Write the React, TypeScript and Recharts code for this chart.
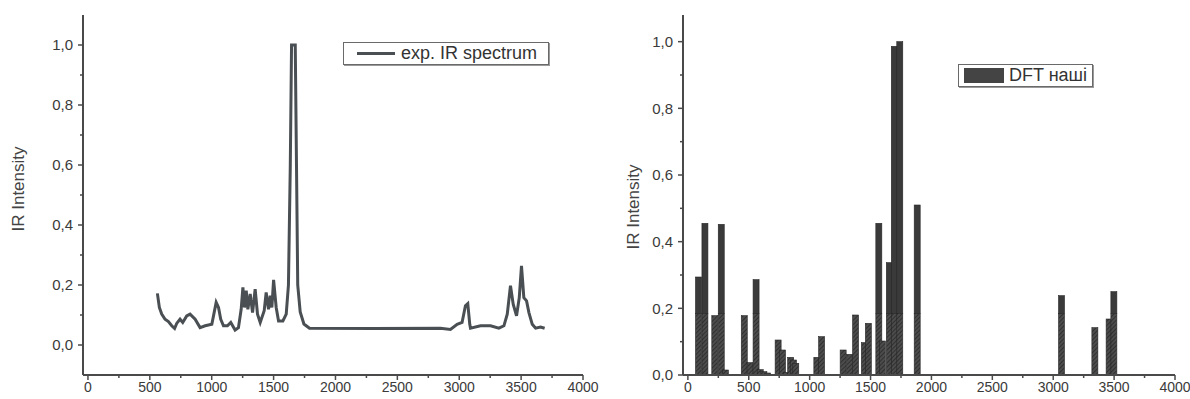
import React from "react";
import { LineChart, Line, BarChart, Bar, XAxis, YAxis, Legend } from "recharts";

// experimental IR spectrum (wavenumber, cm-1 / relative intensity)
const expWavenumbers = [
  561, 577, 596, 623, 650, 677, 700, 717, 744, 766, 798, 825, 866, 906, 947,
  1001, 1036, 1055, 1073, 1095, 1127, 1154, 1189, 1216, 1238, 1252, 1265, 1279,
  1292, 1311, 1330, 1351, 1370, 1392, 1424, 1440, 1459, 1473, 1486, 1500, 1521,
  1540, 1575, 1602, 1620, 1635, 1645, 1660, 1675, 1685, 1695, 1715, 1745, 1790,
  2300, 2848, 2929, 2983, 3023, 3050, 3069, 3085, 3091, 3172, 3253, 3320, 3361,
  3388, 3414, 3436, 3463, 3485, 3503, 3522, 3544, 3563, 3590, 3617, 3657, 3690,
];
const expIntensity = [
  0.172, 0.125, 0.103, 0.086, 0.078, 0.064, 0.055, 0.072, 0.086, 0.075, 0.097,
  0.103, 0.086, 0.058, 0.064, 0.069, 0.142, 0.125, 0.086, 0.064, 0.064, 0.075,
  0.05, 0.058, 0.119, 0.192, 0.125, 0.181, 0.119, 0.17, 0.108, 0.186, 0.103,
  0.075, 0.114, 0.175, 0.119, 0.164, 0.125, 0.217, 0.125, 0.08, 0.08, 0.103,
  0.2, 0.6, 1.0, 1.0, 1.0, 0.6, 0.2, 0.11, 0.07, 0.056, 0.055, 0.056, 0.052,
  0.069, 0.075, 0.131, 0.138, 0.069, 0.056, 0.064, 0.064, 0.056, 0.064, 0.103,
  0.198, 0.136, 0.097, 0.158, 0.264, 0.158, 0.147, 0.108, 0.069, 0.056, 0.06,
  0.056,
];

// calculated (DFT) lines
const dftWavenumbers = [
  88, 141, 222, 275, 309, 464, 512, 561, 595, 625, 655, 742, 778, 808, 845, 868,
  887, 1060, 1099, 1276, 1329, 1378, 1450, 1483, 1569, 1599, 1655, 1696, 1741,
  1884, 3069, 3343, 3460, 3499,
];
const dftIntensity = [
  0.294, 0.455, 0.178, 0.452, 0.015, 0.178, 0.037, 0.286, 0.016, 0.01, 0.006,
  0.105, 0.075, 0.008, 0.053, 0.045, 0.035, 0.053, 0.115, 0.075, 0.062, 0.18,
  0.097, 0.155, 0.455, 0.102, 0.337, 0.986, 1.0, 0.51, 0.238, 0.142, 0.168, 0.25,
];

const xTicks = [
  0, 250, 500, 750, 1000, 1250, 1500, 1750, 2000, 2250, 2500, 2750, 3000, 3250,
  3500, 3750, 4000,
];
const yTicks = [0, 0.1, 0.2, 0.3, 0.4, 0.5, 0.6, 0.7, 0.8, 0.9, 1.0];

const HATCH_TOP = 0.185;

const expData = expWavenumbers.map((x, i) => ({ x, y: expIntensity[i] }));
const dftData = dftWavenumbers.map((x, i) => ({
  x,
  hatch: Math.min(dftIntensity[i], HATCH_TOP),
  solid: Math.max(dftIntensity[i] - HATCH_TOP, 0),
}));

const AXIS = "#4a4a4a";
const TEXT = "#3a3a3a";
const FONT = "'Liberation Sans', Arial, sans-serif";

const fmt = (v: number) => v.toFixed(1).replace(".", ",");

const XTick = (props: any) => {
  const { x, y, payload } = props;
  const major = Math.round(payload.value) % 500 === 0;
  const axisY = y - 7;
  return (
    <g>
      <line x1={x} x2={x} y1={axisY} y2={axisY + (major ? 5 : 3)} stroke={AXIS} strokeWidth={1.5} />
      {major && (
        <text x={x} y={y} dy="0.71em" textAnchor="middle" fontSize={14} fill={TEXT} fontFamily={FONT}>
          {payload.value}
        </text>
      )}
    </g>
  );
};

const YTick = (props: any) => {
  const { x, y, payload } = props;
  const major = Math.round(payload.value * 10) % 2 === 0;
  const axisX = x + 10;
  return (
    <g>
      <line x1={axisX - (major ? 5 : 3)} x2={axisX} y1={y} y2={y} stroke={AXIS} strokeWidth={1.5} />
      {major && (
        <text x={x} y={y} dy="0.355em" textAnchor="end" fontSize={15} fill={TEXT} fontFamily={FONT}>
          {fmt(payload.value)}
        </text>
      )}
    </g>
  );
};

const BarShape = (props: any) => {
  const { x, y, width, height, fill } = props;
  if (!height || height <= 0) return null;
  const cx = x + width / 2;
  return <rect x={cx - 3} y={y} width={6} height={height} fill={fill} stroke="#262626" strokeWidth={0.6} />;
};

const boxStyle: React.CSSProperties = {
  display: "flex",
  alignItems: "center",
  height: 21,
  border: "1px solid #6a6a6a",
  boxShadow: "1px 1px 0 #9a9a9a",
  background: "#fff",
  fontFamily: FONT,
  fontSize: 18,
  color: "#333",
  whiteSpace: "nowrap",
};

const ExpLegend = () => (
  <div style={{ ...boxStyle, width: 204 }}>
    <span style={{ display: "inline-block", width: 38, height: 3, background: "#4a4f53", marginLeft: 13, marginRight: 6 }} />
    <span>exp. IR spectrum</span>
  </div>
);

const DftLegend = () => (
  <div style={{ ...boxStyle, width: 133 }}>
    <span style={{ display: "inline-block", width: 40, height: 15, background: "#444", marginLeft: 5, marginRight: 5 }} />
    <span>DFT наші</span>
  </div>
);

const yLabel = (left: number, top: number): React.CSSProperties => ({
  position: "absolute",
  left,
  top,
  transform: "translate(-50%, -50%) rotate(-90deg)",
  fontFamily: FONT,
  fontSize: 17,
  color: "#444",
  whiteSpace: "nowrap",
});

const App = () => {
  return (
    <div style={{ position: "absolute", left: 0, top: 0, width: 1190, height: 399, background: "#fff", overflow: "hidden" }}>
      <div style={{ position: "absolute", left: 0, top: 0 }}>
        <LineChart width={600} height={399} data={expData} margin={{ top: 15, right: 17, bottom: 0, left: 33 }}>
          <XAxis
            type="number"
            dataKey="x"
            domain={[-40, 4000]}
            ticks={xTicks}
            interval={0}
            height={24}
            tickSize={5}
            tickMargin={2}
            tickLine={false}
            axisLine={{ stroke: AXIS, strokeWidth: 2 }}
            tick={<XTick />}
            allowDataOverflow
          />
          <YAxis
            type="number"
            domain={[-0.1, 1.1]}
            ticks={yTicks}
            interval={0}
            width={50}
            tickSize={5}
            tickMargin={5}
            tickLine={false}
            axisLine={{ stroke: AXIS, strokeWidth: 2 }}
            tick={<YTick />}
            allowDataOverflow
          />
          <Line
            dataKey="y"
            type="linear"
            stroke="#4a4f53"
            strokeWidth={3}
            dot={false}
            isAnimationActive={false}
          />
          <Legend
            layout="horizontal"
            verticalAlign="middle"
            align="center"
            content={<ExpLegend />}
            wrapperStyle={{ left: 343, top: 42, width: 206, height: 23 }}
          />
        </LineChart>
      </div>
      <div style={yLabel(19, 189)}>IR Intensity</div>

      <div style={{ position: "absolute", left: 600, top: 0 }}>
        <BarChart width={590} height={399} data={dftData} margin={{ top: 15, right: 15, bottom: 0, left: 33 }}>
          <defs>
            <pattern id="hatch" patternUnits="userSpaceOnUse" width="3" height="3" patternTransform="rotate(45)">
              <rect width="3" height="3" fill="#4c4c4c" />
              <line x1="0" y1="0" x2="0" y2="3" stroke="#262626" strokeWidth="1.5" />
            </pattern>
          </defs>
          <XAxis
            type="number"
            dataKey="x"
            domain={[-40, 4000]}
            ticks={xTicks}
            interval={0}
            height={24}
            tickSize={5}
            tickMargin={2}
            tickLine={false}
            axisLine={{ stroke: AXIS, strokeWidth: 2 }}
            tick={<XTick />}
            allowDataOverflow
          />
          <YAxis
            type="number"
            domain={[0, 1.08]}
            ticks={yTicks}
            interval={0}
            width={50}
            tickSize={5}
            tickMargin={5}
            tickLine={false}
            axisLine={{ stroke: AXIS, strokeWidth: 2 }}
            tick={<YTick />}
            allowDataOverflow
          />
          <Bar dataKey="hatch" stackId="dft" fill="url(#hatch)" barSize={6} shape={<BarShape />} legendType="none" isAnimationActive={false} />
          <Bar dataKey="solid" stackId="dft" fill="#3a3a3a" barSize={6} shape={<BarShape />} name="DFT наші" isAnimationActive={false} />
          <Legend
            layout="horizontal"
            verticalAlign="middle"
            align="center"
            content={<DftLegend />}
            wrapperStyle={{ left: 358, top: 64, width: 135, height: 23 }}
          />
        </BarChart>
      </div>
      <div style={yLabel(634, 207)}>IR Intensity</div>
    </div>
  );
};

export default App;
